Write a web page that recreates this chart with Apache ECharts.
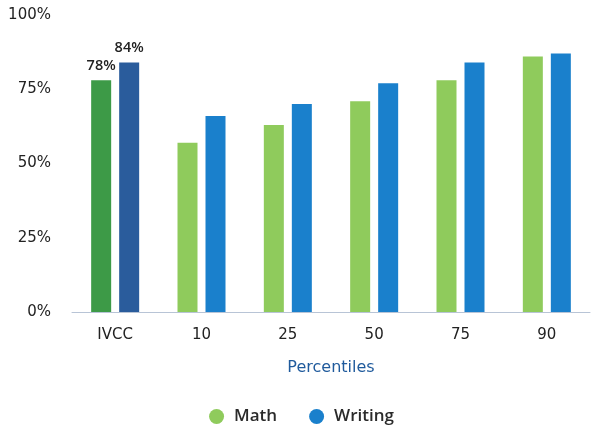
<!DOCTYPE html>
<html><head><meta charset="utf-8">
<script src="https://cdn.jsdelivr.net/npm/echarts@6/dist/echarts.min.js"></script>
<style>html,body{margin:0;padding:0;background:#fff}#c{width:603px;height:433px}</style>
</head><body><div id="c"></div>
<script>
const categories = ['IVCC', '10', '25', '50', '75', '90'];
const mathValues = [78, 57, 63, 71, 78, 86];
const writingValues = [84, 66, 70, 77, 84, 87];
const yTicks = [0, 25, 50, 75, 100];

const font = '"DejaVu Sans", Verdana, sans-serif';
const chart = echarts.init(document.getElementById('c'));
function items(vals, firstColor) {
  return vals.map((v, i) => i === 0 ? {
    value: v,
    itemStyle: { color: firstColor },
    label: { show: true, position: 'top', formatter: '{c}%', color: '#222', fontSize: 14.5, fontWeight: 600, fontFamily: '"Open Sans", sans-serif', distance: 7 }
  } : v);
}
chart.setOption({
  animation: false,
  grid: { left: 72, right: 13, top: 15, bottom: 121 },
  legend: {
    bottom: 3, left: 'center', icon: 'circle', itemWidth: 25, itemHeight: 15, itemGap: 32,
    textStyle: { fontSize: 17, fontWeight: 600, color: '#2a2a2a', fontFamily: '"Open Sans", sans-serif' },
    data: ['Math', 'Writing']
  },
  xAxis: {
    type: 'category', data: categories,
    name: 'Percentiles', nameLocation: 'middle', nameGap: 48,
    nameTextStyle: { color: '#1f5a9c', fontSize: 16, fontFamily: font },
    axisLine: { lineStyle: { color: '#b8c4d6' } },
    axisTick: { show: false },
    axisLabel: { color: '#222', fontSize: 15, margin: 16, fontFamily: font }
  },
  yAxis: {
    type: 'value', min: 0, max: 100, interval: 25,
    axisLabel: { formatter: '{value}%', color: '#222', fontSize: 15, margin: 21, fontFamily: font },
    splitLine: { show: false }, axisLine: { show: false }, axisTick: { show: false }
  },
  series: [
    { name: 'Math', type: 'bar', barWidth: 20, barGap: '40%', color: '#8fcb5c', data: items(mathValues, '#3d9a47') },
    { name: 'Writing', type: 'bar', barWidth: 20, color: '#1a80cc', data: items(writingValues, '#2a5c9c') }
  ]
});
</script></body></html>
